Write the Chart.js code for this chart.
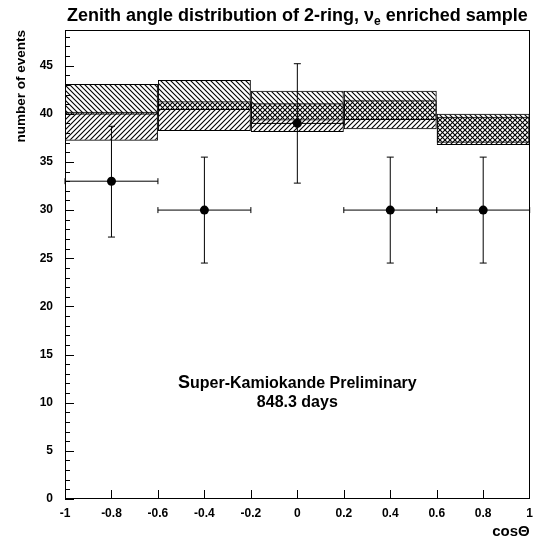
<!DOCTYPE html>
<html>
<head>
<meta charset="utf-8">
<script src="https://cdn.jsdelivr.net/npm/chart.js@4"></script>
<style>
  body { margin: 0; background: #fff; }
  #wrap { width: 540px; height: 541px; }
</style>
</head>
<body>
<div id="wrap"><canvas id="zenith" width="540" height="541"></canvas></div>
<script>
    "use strict";

    // bins in cos(theta)
    var binLow = [-1.0, -0.6, -0.2, 0.2, 0.6];
    var binHigh = [-0.6, -0.2, 0.2, 0.6, 1.0];

    // MC expectation bands (two hatched boxes per bin)
    var bandALow = [39.9, 40.4, 39.3, 39.35, 37.0];   // "\" hatch
    var bandAHigh = [43.1, 43.5, 42.4, 42.4, 40.0];
    var bandBLow = [37.2, 38.2, 38.1, 38.4, 36.75];   // "/" hatch
    var bandBHigh = [40.2, 41.3, 41.1, 41.4, 39.7];

    // data points with errors
    var dataEvents = [33, 30, 39, 30, 30];
    var errHigh = [38.7, 35.5, 45.2, 35.5, 35.5];
    var errLow = [27.2, 24.5, 32.8, 24.5, 24.5];

    var yTicks = [0, 5, 10, 15, 20, 25, 30, 35, 40, 45];

    var FONT = '"Liberation Sans", Arial, Helvetica, sans-serif';
    Chart.defaults.font.family = FONT;
    Chart.defaults.color = '#000';

    var canvas = document.getElementById('zenith');
    var ctx = canvas.getContext('2d');

    // hatch patterns
    function hatch(dir) {
        var s = 5;
        var c = document.createElement('canvas');
        c.width = s;
        c.height = s;
        var g = c.getContext('2d');
        g.strokeStyle = '#000';
        g.lineWidth = 1.1;
        g.beginPath();
        if (dir === '/') {
            g.moveTo(-1, s + 1); g.lineTo(s + 1, -1);
            g.moveTo(-1, 1); g.lineTo(1, -1);
            g.moveTo(s - 1, s + 1); g.lineTo(s + 1, s - 1);
        } else {
            g.moveTo(-1, -1); g.lineTo(s + 1, s + 1);
            g.moveTo(s - 1, -1); g.lineTo(s + 1, 1);
            g.moveTo(-1, s - 1); g.lineTo(1, s + 1);
        }
        g.stroke();
        return ctx.createPattern(c, 'repeat');
    }

    var centers = binLow.map(function (lo, i) {
        return (lo + binHigh[i]) / 2;
    });

    function band(lows, highs) {
        return centers.map(function (x, i) {
            return { x: x, y: [lows[i], highs[i]] };
        });
    }

    // frame, inner ticks, error bars, texts
    var decorations = {
        id: 'decorations',
        afterDatasetsDraw: function (chart) {
            var c = chart.ctx;
            var xs = chart.scales.x, ys = chart.scales.y;
            c.save();
            c.strokeStyle = '#000';
            c.lineWidth = 1;
            c.beginPath();
            for (var i = 0; i < dataEvents.length; i++) {
                var px = xs.getPixelForValue(centers[i]);
                var py = ys.getPixelForValue(dataEvents[i]);
                var x1 = xs.getPixelForValue(binLow[i]);
                var x2 = xs.getPixelForValue(binHigh[i]);
                var yh = ys.getPixelForValue(errHigh[i]);
                var yl = ys.getPixelForValue(errLow[i]);
                c.moveTo(x1, py); c.lineTo(x2, py);
                c.moveTo(x1, py - 3); c.lineTo(x1, py + 3);
                c.moveTo(x2, py - 3); c.lineTo(x2, py + 3);
                c.moveTo(px, yh); c.lineTo(px, yl);
                c.moveTo(px - 3.5, yh); c.lineTo(px + 3.5, yh);
                c.moveTo(px - 3.5, yl); c.lineTo(px + 3.5, yl);
            }
            c.stroke();
            c.restore();
        },
        afterDraw: function (chart) {
            var c = chart.ctx;
            var a = chart.chartArea;
            var xs = chart.scales.x, ys = chart.scales.y;
            c.save();
            c.strokeStyle = '#000';
            c.lineWidth = 1;
            c.strokeRect(Math.round(a.left) + 0.5, Math.round(a.top) + 0.5,
                Math.round(a.right - a.left) - 1, Math.round(a.bottom - a.top) - 1);

            // ticks pointing inwards
            c.beginPath();
            for (var v = 0; v <= 48; v++) {
                var py = Math.round(ys.getPixelForValue(v)) + 0.5;
                var len = (v % 5 === 0) ? 9 : 5;
                c.moveTo(a.left, py); c.lineTo(a.left + len, py);
            }
            for (var k = -4; k <= 4; k++) {
                var px = Math.round(xs.getPixelForValue(k * 0.2)) + 0.5;
                c.moveTo(px, a.bottom); c.lineTo(px, a.bottom - 9);
            }
            c.stroke();

            // title with subscript
            var t1 = 'Zenith angle distribution of 2-ring, \u03bd';
            var t2 = ' enriched sample';
            c.fillStyle = '#000';
            c.textBaseline = 'alphabetic';
            c.font = 'bold 18px ' + FONT;
            var w1 = c.measureText(t1).width;
            var w3 = c.measureText(t2).width;
            c.font = 'bold 12px ' + FONT;
            var w2 = c.measureText('e').width;
            var cx = (a.left + a.right) / 2;
            var x0 = cx - (w1 + w2 + w3) / 2;
            c.font = 'bold 18px ' + FONT;
            c.textAlign = 'left';
            c.fillText(t1, x0, 21);
            c.font = 'bold 12px ' + FONT;
            c.fillText('e', x0 + w1, 25);
            c.font = 'bold 18px ' + FONT;
            c.fillText(t2, x0 + w1 + w2, 21);

            // axis titles
            c.font = 'bold 15px ' + FONT;
            c.textAlign = 'right';
            c.fillText('cos\u0398', a.right, 536);
            c.save();
            c.translate(25, a.top);
            c.rotate(-Math.PI / 2);
            c.font = 'bold 13.5px ' + FONT;
            c.textAlign = 'right';
            c.fillText('number of events', 0, 0);
            c.restore();

            // label in the plot
            var lx = xs.getPixelForValue(0);
            c.font = 'bold 18px ' + FONT;
            var ws = c.measureText('S').width;
            c.font = 'bold 16px ' + FONT;
            var wr = c.measureText('uper-Kamiokande Preliminary').width;
            var sx = lx - (ws + wr) / 2;
            var b1 = ys.getPixelForValue(11.55);
            c.textAlign = 'left';
            c.font = 'bold 18px ' + FONT;
            c.fillText('S', sx, b1);
            c.font = 'bold 16px ' + FONT;
            c.fillText('uper-Kamiokande Preliminary', sx + ws, b1);
            c.textAlign = 'center';
            c.fillText('848.3 days', lx, ys.getPixelForValue(9.58));
            c.restore();
        }
    };

    // tick spacing (0.2) is half a bin (0.4), so the bar ruler needs x2
    var barOpts = {
        borderColor: '#000',
        borderWidth: 1,
        borderSkipped: false,
        grouped: false,
        barPercentage: 1,
        categoryPercentage: 2
    };

    var zenithChart = new Chart(ctx, {
        type: 'bar',
        data: {
            datasets: [
                {
                    type: 'scatter',
                    label: 'Data',
                    data: centers.map(function (x, i) { return { x: x, y: dataEvents[i] }; }),
                    pointRadius: 4.5,
                    pointBackgroundColor: '#000',
                    pointBorderWidth: 0,
                    showLine: false
                },
                Object.assign({
                    label: 'MC A',
                    data: band(bandALow, bandAHigh),
                    backgroundColor: hatch('\\')
                }, barOpts),
                Object.assign({
                    label: 'MC B',
                    data: band(bandBLow, bandBHigh),
                    backgroundColor: hatch('/')
                }, barOpts)
            ]
        },
        options: {
            responsive: false,
            animation: false,
            events: [],
            layout: { padding: { top: 30, right: 6, left: 0, bottom: 0 } },
            plugins: {
                legend: { display: false },
                tooltip: { enabled: false }
            },
            scales: {
                x: {
                    type: 'linear',
                    min: -1,
                    max: 1,
                    offset: false,
                    grid: { display: false, drawTicks: false, offset: false },
                    border: { display: false },
                    ticks: {
                        stepSize: 0.2,
                        padding: 7,
                        maxRotation: 0,
                        font: { size: 12, weight: 'bold' },
                        callback: function (v) { return String(Number(v.toFixed(1))); }
                    },
                    afterFit: function (scale) { scale.height = 42; }
                },
                y: {
                    type: 'linear',
                    min: 0,
                    max: 48.7,
                    grid: { display: false, drawTicks: false },
                    border: { display: false },
                    ticks: {
                        padding: 12,
                        font: { size: 12, weight: 'bold' }
                    },
                    afterBuildTicks: function (scale) {
                        scale.ticks = yTicks.map(function (v) { return { value: v }; });
                    },
                    afterFit: function (scale) { scale.width = 65; }
                }
            }
        },
        plugins: [decorations]
    });
</script>
</body>
</html>
